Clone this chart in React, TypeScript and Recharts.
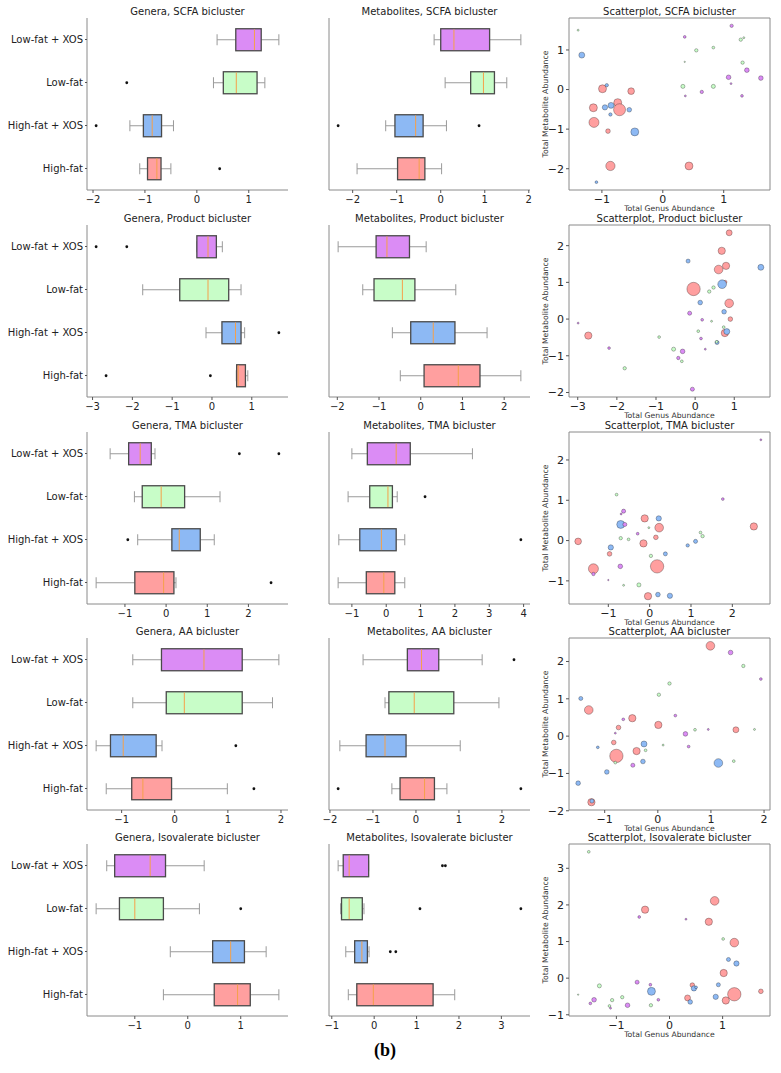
import React from "react";
import {
  ComposedChart,
  Bar,
  XAxis,
  YAxis,
  ReferenceArea,
  ScatterChart,
  Scatter,
  ZAxis,
} from "recharts";

// ---------- categories ----------
const groups = ["Low-fat + XOS", "Low-fat", "High-fat + XOS", "High-fat"];

// ---------- box statistics: [lowWhisker, q1, median, q3, highWhisker] per group ----------
const genSCFA = [[0.39, 0.75, 1.11, 1.24, 1.58], [0.32, 0.51, 0.76, 1.16, 1.31], [-1.29, -1.03, -0.86, -0.68, -0.45], [-1.1, -0.95, -0.77, -0.69, -0.5]];
const genSCFAOut = [[], [-1.35], [-1.94], [0.44]];
const metSCFA = [[-0.15, 0.0, 0.3, 1.11, 1.82], [0.1, 0.68, 0.97, 1.22, 1.5], [-1.25, -1.04, -0.57, -0.4, 0.13], [-1.9, -0.98, -0.49, -0.36, 0.02]];
const metSCFAOut = [[], [], [-2.33, 0.87], []];

const genProd = [[-0.38, -0.38, -0.1, 0.11, 0.26], [-1.74, -0.81, -0.1, 0.42, 0.73], [-0.15, 0.25, 0.59, 0.73, 0.82], [0.61, 0.62, 0.66, 0.84, 0.9]];
const genProdOut = [[-2.91, -2.14], [], [1.68], [-2.66, -0.04]];
const metProd = [[-1.98, -1.07, -0.81, -0.27, 0.13], [-1.39, -1.12, -0.44, -0.14, 0.84], [-0.68, -0.24, 0.3, 0.82, 1.59], [-0.49, 0.08, 0.9, 1.42, 2.4]];
const metProdOut = [[], [], [], []];

const genTMA = [[-1.36, -0.91, -0.63, -0.36, -0.27], [-0.77, -0.58, -0.12, 0.45, 1.31], [-0.69, 0.14, 0.32, 0.83, 1.17], [-1.7, -0.76, -0.06, 0.19, 0.24]];
const genTMAOut = [[1.78, 2.74], [], [-0.93], [2.55]];
const metTMA = [[-1.0, -0.55, 0.29, 0.7, 2.51], [-1.11, -0.48, 0.05, 0.18, 0.32], [-1.38, -0.77, -0.14, 0.29, 0.54], [-1.4, -0.58, -0.07, 0.25, 0.54]];
const metTMAOut = [[], [1.13], [3.92], []];

const genAA = [[-0.79, -0.25, 0.55, 1.27, 1.96], [-0.79, -0.16, 0.18, 1.27, 1.84], [-1.48, -1.21, -0.97, -0.35, -0.24], [-1.29, -0.81, -0.6, -0.06, 0.99]];
const genAAOut = [[], [], [1.15], [1.49]];
const metAA = [[-1.23, -0.2, 0.13, 0.53, 1.54], [-0.72, -0.63, -0.04, 0.88, 1.93], [-1.77, -1.16, -0.72, -0.23, 1.03], [-0.56, -0.37, 0.2, 0.43, 0.72]];
const metAAOut = [[2.28], [], [], [-1.81, 2.44]];

const genIso = [[-1.53, -1.38, -0.71, -0.42, 0.31], [-1.73, -1.29, -1.0, -0.46, 0.22], [-0.33, 0.47, 0.81, 1.07, 1.48], [-0.46, 0.5, 0.94, 1.18, 1.72]];
const genIsoOut = [[], [1.0], [], []];
const metIso = [[-0.85, -0.73, -0.59, -0.13, -0.13], [-0.79, -0.77, -0.59, -0.28, -0.24], [-0.67, -0.46, -0.29, -0.16, -0.12], [-0.61, -0.41, -0.02, 1.39, 1.9]];
const metIsoOut = [[1.61, 1.68], [1.08, 3.46], [0.38, 0.51], []];

// ---------- scatter points: [genus, metabolite, markerArea] per group ----------
const scSCFA = [
  [[1.13, 1.61, 9], [0.36, 1.33, 6], [1.38, 0.49, 17], [1.08, 0.31, 17], [1.61, 0.29, 17], [1.12, 0.15, 3], [0.64, -0.06, 9], [0.37, -0.16, 3], [1.3, -0.16, 6]],
  [[-1.39, 1.5, 3], [0.55, 0.99, 9], [0.36, 0.7, 1.5], [0.83, 1.06, 6], [1.28, 1.26, 9], [1.33, 1.31, 3], [1.31, 0.68, 9], [0.33, 0.08, 13], [0.83, 0.08, 13]],
  [[-1.33, 0.87, 28], [-0.92, 0.11, 9], [-0.95, -0.45, 22], [-0.85, -0.4, 28], [-0.86, -0.63, 9], [-0.55, -0.51, 17], [-0.46, -1.07, 50], [-1.09, -2.34, 6]],
  [[-0.99, 0.02, 50], [-0.52, -0.04, 35], [-0.74, -0.33, 50], [-0.71, -0.51, 113], [-1.14, -0.46, 50], [-1.13, -0.83, 79], [-0.9, -1.05, 17], [-0.86, -1.93, 68], [0.43, -1.93, 50]],
];
const scProd = [
  [[-2.99, -0.11, 3], [-0.14, 0.16, 13], [0.18, -0.02, 6], [0.15, -0.53, 6], [0.26, -0.82, 3], [-2.2, -0.79, 6], [-0.32, -0.88, 17], [-0.43, -1.06, 9], [-0.07, -1.91, 13]],
  [[0.36, 0.75, 9], [0.47, 0.86, 9], [0.42, -0.06, 3], [0.08, -0.33, 6], [-0.92, -0.49, 6], [-0.55, -0.82, 13], [-0.34, -1.15, 6], [-1.8, -1.34, 9], [0.73, -0.22, 6], [0.55, -0.62, 6]],
  [[1.68, 1.41, 28], [-0.18, 1.58, 13], [0.69, 0.95, 59], [0.13, 0.45, 17], [0.74, 0.2, 17], [0.81, -0.34, 28], [0.56, -0.64, 13]],
  [[0.87, 2.35, 28], [0.68, 1.86, 42], [0.6, 1.35, 59], [0.79, 1.45, 42], [-0.04, 0.82, 140], [0.87, 0.43, 59], [0.9, 0.0, 17], [0.76, -0.38, 42], [-2.73, -0.45, 42], [0.77, 1.01, 9]],
];
const scTMA = [
  [[2.69, 2.5, 3], [1.77, 1.03, 6], [-0.63, 0.73, 13], [-0.69, 0.66, 3], [-0.6, 0.4, 13], [-0.29, 0.17, 6], [-0.71, -0.64, 17], [-1.36, -0.83, 9], [-1.0, -0.98, 1.5]],
  [[-0.8, 1.14, 6], [-0.02, 0.32, 3], [-0.7, 0.06, 9], [-0.51, 0.03, 6], [1.23, 0.2, 6], [1.28, 0.11, 9], [0.03, -0.38, 9], [-0.63, -1.11, 3], [-0.26, -1.1, 13]],
  [[-0.7, 0.4, 50], [0.22, 0.55, 22], [-0.94, -0.17, 22], [0.38, -0.33, 13], [0.92, -0.12, 9], [1.11, -0.02, 13], [0.2, -1.34, 17], [0.49, -1.37, 22]],
  [[-0.12, 0.55, 42], [0.23, 0.32, 59], [0.15, 0.08, 17], [-0.15, -0.07, 42], [-1.73, -0.02, 35], [-0.97, -0.33, 17], [-1.36, -0.7, 79], [0.18, -0.64, 140], [-0.04, -1.38, 42], [2.52, 0.35, 42]],
];
const scAA = [
  [[1.37, 2.24, 17], [1.94, 1.53, 6], [0.33, 0.55, 6], [-0.65, 0.45, 6], [-0.8, 0.08, 3], [0.52, 0.06, 17], [0.95, 0.18, 3], [0.58, -0.28, 6], [-0.47, -0.78, 13]],
  [[1.61, 1.88, 9], [0.22, 1.41, 9], [0.02, 1.11, 9], [0.7, 0.17, 6], [1.82, 0.18, 3], [0.1, -0.24, 3], [-0.23, -0.38, 6], [1.43, -0.67, 6], [-0.8, -0.71, 6]],
  [[-1.45, 1.01, 13], [-1.13, -0.3, 6], [-0.26, -0.21, 28], [-0.28, -0.68, 17], [-0.96, -0.96, 17], [1.14, -0.72, 59], [-1.5, -1.26, 17], [-1.24, -1.74, 13]],
  [[0.99, 2.42, 59], [-1.3, 0.7, 59], [-0.48, 0.48, 42], [-0.74, 0.23, 17], [0.01, 0.3, 42], [-0.83, -0.17, 17], [-0.4, -0.4, 42], [-0.78, -0.53, 140], [1.47, 0.17, 28], [-1.25, -1.77, 42]],
];
const scIso = [
  [[-0.57, 1.67, 6], [0.31, 1.61, 3], [-0.61, -0.11, 13], [-0.36, -0.18, 6], [-0.21, -0.59, 6], [-1.42, -0.59, 17], [-1.49, -0.69, 6], [-1.11, -0.82, 3], [-0.79, -0.74, 17]],
  [[-1.52, 3.45, 6], [1.01, 1.07, 6], [-1.32, -0.21, 13], [-0.89, -0.52, 9], [-1.08, -0.6, 9], [-0.35, -0.74, 9], [-1.13, -0.76, 6], [-1.72, -0.45, 1.5]],
  [[1.11, 0.51, 13], [1.26, 0.4, 22], [-0.34, -0.36, 50], [0.46, -0.28, 22], [0.5, -0.25, 6], [0.92, -0.18, 13], [0.87, -0.51, 22], [0.39, -0.65, 17]],
  [[0.85, 2.11, 59], [-0.46, 1.87, 42], [0.74, 1.54, 42], [1.22, 0.97, 59], [1.02, 0.14, 42], [1.22, -0.44, 140], [1.06, -0.61, 42], [0.43, -0.19, 17], [0.34, -0.54, 28], [1.72, -0.36, 17]],
];

// ---------- tick values ----------
const tGenSCFA = [-2, -1, 0, 1];
const tMetSCFA = [-2, -1, 0, 1, 2];
const tScSCFAx = [-1, 0, 1];
const tScSCFAy = [-2, -1, 0, 1];
const tGenProd = [-3, -2, -1, 0, 1];
const tMetProd = [-2, -1, 0, 1, 2];
const tScProdx = [-3, -2, -1, 0, 1];
const tScPrody = [-2, -1, 0, 1, 2];
const tGenTMA = [-1, 0, 1, 2];
const tMetTMA = [-1, 0, 1, 2, 3, 4];
const tScTMAx = [-1, 0, 1, 2];
const tScTMAy = [-1, 0, 1, 2];
const tGenAA = [-1, 0, 1, 2];
const tMetAA = [-2, -1, 0, 1, 2];
const tScAAx = [-1, 0, 1, 2];
const tScAAy = [-2, -1, 0, 1, 2];
const tGenIso = [-1, 0, 1];
const tMetIso = [-1, 0, 1, 2, 3];
const tScIsox = [-1, 0, 1];
const tScIsoy = [-1, 0, 1, 2, 3];

// ---------- styles / layout ----------
const FONT = "DejaVu Sans";
const FILLS = ["#DB8CF5", "#C8FDC8", "#8DB9F4", "#FF9F9F"];
const EDGE = "#4a4a4a";
const WHISK = "#9a9a9a";
const MEDIAN = "#F5A04A";
const FRAME = "#8a8a8a";
const COLX = [87, 329, 569];
const ROWY = [18, 225, 432, 638, 844];
const PW = 201;
const PH = 172;

const fmt = (v: number) => (v < 0 ? "\u2212" + Math.abs(v) : String(v));

const padDomain = (vals: number[]): [number, number] => {
  const mn = Math.min(...vals);
  const mx = Math.max(...vals);
  const p = (mx - mn) * 0.05;
  return [mn - p, mx + p];
};

const CatTick = (p: any) => (
  <text
    x={p.x}
    y={p.y}
    dy="0.355em"
    textAnchor="end"
    fontSize={10}
    fill="#222"
    fontFamily={FONT}
  >
    {p.payload.value}
  </text>
);

const BoxShape = (props: any) => {
  const { x, y, width, height } = props;
  const d = props.payload ?? props;
  const [a, b] = d.range;
  const px = (v: number) => x + ((v - a) / (b - a)) * width;
  const cy = y + height / 2;
  const ch = height / 4;
  return (
    <g>
      <line x1={px(d.lo)} x2={px(d.q1)} y1={cy} y2={cy} stroke={WHISK} strokeWidth={1} />
      <line x1={px(d.q3)} x2={px(d.hi)} y1={cy} y2={cy} stroke={WHISK} strokeWidth={1} />
      <line x1={px(d.lo)} x2={px(d.lo)} y1={cy - ch} y2={cy + ch} stroke={WHISK} strokeWidth={1} />
      <line x1={px(d.hi)} x2={px(d.hi)} y1={cy - ch} y2={cy + ch} stroke={WHISK} strokeWidth={1} />
      <rect
        x={px(d.q1)}
        y={y}
        width={Math.max(px(d.q3) - px(d.q1), 0.5)}
        height={height}
        fill={FILLS[d.idx]}
        stroke={EDGE}
        strokeWidth={1.3}
      />
      <line x1={px(d.med)} x2={px(d.med)} y1={y + 0.7} y2={y + height - 0.7} stroke={MEDIAN} strokeWidth={1} />
      {d.out.map((o: number, k: number) => (
        <circle key={k} cx={px(o)} cy={cy} r={1.4} fill="#111" />
      ))}
    </g>
  );
};

const Title = ({ text, left, top }: { text: string; left: number; top: number }) => (
  <div
    style={{
      position: "absolute",
      left,
      top,
      width: PW,
      textAlign: "center",
      fontSize: 10,
      lineHeight: "12px",
      color: "#222",
      fontFamily: FONT,
      whiteSpace: "nowrap",
    }}
  >
    {text}
  </div>
);

const BoxPanel = ({
  title,
  stats,
  outliers,
  ticks,
  col,
  row,
}: {
  title: string;
  stats: number[][];
  outliers: number[][];
  ticks: number[];
  col: number;
  row: number;
}) => {
  const yW = col === 0 ? 87 : 12;
  const mT = 2;
  const mR = 6;
  const xH = 22;
  const data = groups.map((name, i) => {
    const [lo, q1, med, q3, hi] = stats[i];
    const out = outliers[i];
    return { name, idx: i, lo, q1, med, q3, hi, out, range: [Math.min(lo, ...out), Math.max(hi, ...out)] };
  });
  const domain = padDomain(data.flatMap((d) => d.range));
  return (
    <div style={{ position: "absolute", left: COLX[col] - yW, top: ROWY[row] - mT }}>
      <ComposedChart
        layout="vertical"
        width={yW + PW + mR}
        height={mT + PH + xH}
        data={data}
        margin={{ top: mT, right: mR, bottom: 0, left: 0 }}
        barCategoryGap="25%"
      >
        <XAxis
          type="number"
          domain={domain}
          ticks={ticks}
          allowDataOverflow
          interval={0}
          tickFormatter={fmt}
          tick={{ fontSize: 10, fill: "#222", fontFamily: FONT }}
          tickSize={3}
          tickMargin={3}
          tickLine={{ stroke: "#555" }}
          axisLine={{ stroke: FRAME }}
          height={xH}
        />
        <XAxis
          xAxisId="top"
          orientation="top"
          type="number"
          domain={domain}
          allowDataOverflow
          tick={false}
          tickLine={false}
          axisLine={{ stroke: FRAME }}
          height={0}
        />
        <YAxis
          type="category"
          dataKey="name"
          width={yW}
          interval={0}
          tick={col === 0 ? CatTick : false}
          tickSize={2}
          tickMargin={2}
          tickLine={{ stroke: col === 0 ? "#555" : "#bbb" }}
          axisLine={{ stroke: FRAME }}
        />
        <YAxis
          yAxisId="right"
          orientation="right"
          type="category"
          dataKey="name"
          width={0}
          tick={false}
          tickLine={false}
          axisLine={{ stroke: FRAME }}
        />
        <Bar dataKey="range" shape={BoxShape} isAnimationActive={false} />
      </ComposedChart>
      <Title text={title} left={yW} top={mT - 12} />
    </div>
  );
};

const drawOrder = [3, 2, 1, 0];

const ScatterPanel = ({
  title,
  series,
  xticks,
  yticks,
  row,
}: {
  title: string;
  series: number[][][];
  xticks: number[];
  yticks: number[];
  row: number;
}) => {
  const yW = 40;
  const mT = 2;
  const mR = 6;
  const xH = 26;
  const pts = series.map((g) => g.map(([x, y, s]) => ({ x, y, s })));
  const all = pts.flat();
  const xd = padDomain(all.map((p) => p.x));
  const yd = padDomain(all.map((p) => p.y));
  return (
    <div style={{ position: "absolute", left: COLX[2] - yW, top: ROWY[row] - mT }}>
      <ScatterChart width={yW + PW + mR} height={mT + PH + xH} margin={{ top: mT, right: mR, bottom: 0, left: 0 }}>
        <XAxis
          type="number"
          dataKey="x"
          domain={xd}
          ticks={xticks}
          allowDataOverflow
          interval={0}
          tickFormatter={fmt}
          tick={{ fontSize: 11, fill: "#222", fontFamily: FONT }}
          tickSize={3}
          tickMargin={2}
          tickLine={{ stroke: "#555" }}
          axisLine={false}
          height={xH}
          label={{
            value: "Total Genus Abundance",
            position: "insideBottom",
            offset: 5,
            style: { fontSize: 7.7, fill: "#333", fontFamily: FONT },
          }}
        />
        <YAxis
          type="number"
          dataKey="y"
          domain={yd}
          ticks={yticks}
          allowDataOverflow
          interval={0}
          tickFormatter={fmt}
          tick={{ fontSize: 11, fill: "#222", fontFamily: FONT }}
          tickSize={3}
          tickMargin={2}
          tickLine={{ stroke: "#555" }}
          axisLine={false}
          width={yW}
          label={{
            value: "Total Metabolite Abundance",
            angle: -90,
            position: "insideLeft",
            offset: 16.7,
            style: { fontSize: 7.7, fill: "#333", fontFamily: FONT, textAnchor: "middle" },
          }}
        />
        <ZAxis type="number" dataKey="s" domain={[0, 150]} range={[0, 150]} />
        <ReferenceArea
          x1={xd[0]}
          x2={xd[1]}
          y1={yd[0]}
          y2={yd[1]}
          fill="none"
          stroke={FRAME}
          strokeWidth={1}
          ifOverflow="visible"
        />
        {drawOrder.map((i) => (
          <Scatter
            key={i}
            name={groups[i]}
            data={pts[i]}
            fill={FILLS[i]}
            stroke="#000"
            strokeOpacity={0.4}
            strokeWidth={0.7}
            isAnimationActive={false}
          />
        ))}
      </ScatterChart>
      <Title text={title} left={yW} top={mT - 12} />
    </div>
  );
};

export default function App() {
  return (
    <div
      style={{
        position: "absolute",
        left: 0,
        top: 0,
        width: 781,
        height: 1073,
        background: "#fff",
        fontFamily: FONT,
        overflow: "hidden",
      }}
    >
      <BoxPanel title="Genera, SCFA bicluster" stats={genSCFA} outliers={genSCFAOut} ticks={tGenSCFA} col={0} row={0} />
      <BoxPanel title="Metabolites, SCFA bicluster" stats={metSCFA} outliers={metSCFAOut} ticks={tMetSCFA} col={1} row={0} />
      <ScatterPanel title="Scatterplot, SCFA bicluster" series={scSCFA} xticks={tScSCFAx} yticks={tScSCFAy} row={0} />

      <BoxPanel title="Genera, Product bicluster" stats={genProd} outliers={genProdOut} ticks={tGenProd} col={0} row={1} />
      <BoxPanel title="Metabolites, Product bicluster" stats={metProd} outliers={metProdOut} ticks={tMetProd} col={1} row={1} />
      <ScatterPanel title="Scatterplot, Product bicluster" series={scProd} xticks={tScProdx} yticks={tScPrody} row={1} />

      <BoxPanel title="Genera, TMA bicluster" stats={genTMA} outliers={genTMAOut} ticks={tGenTMA} col={0} row={2} />
      <BoxPanel title="Metabolites, TMA bicluster" stats={metTMA} outliers={metTMAOut} ticks={tMetTMA} col={1} row={2} />
      <ScatterPanel title="Scatterplot, TMA bicluster" series={scTMA} xticks={tScTMAx} yticks={tScTMAy} row={2} />

      <BoxPanel title="Genera, AA bicluster" stats={genAA} outliers={genAAOut} ticks={tGenAA} col={0} row={3} />
      <BoxPanel title="Metabolites, AA bicluster" stats={metAA} outliers={metAAOut} ticks={tMetAA} col={1} row={3} />
      <ScatterPanel title="Scatterplot, AA bicluster" series={scAA} xticks={tScAAx} yticks={tScAAy} row={3} />

      <BoxPanel title="Genera, Isovalerate bicluster" stats={genIso} outliers={genIsoOut} ticks={tGenIso} col={0} row={4} />
      <BoxPanel title="Metabolites, Isovalerate bicluster" stats={metIso} outliers={metIsoOut} ticks={tMetIso} col={1} row={4} />
      <ScatterPanel title="Scatterplot, Isovalerate bicluster" series={scIso} xticks={tScIsox} yticks={tScIsoy} row={4} />

      <div
        style={{
          position: "absolute",
          left: 335,
          width: 100,
          top: 1040,
          textAlign: "center",
          fontFamily: "Liberation Serif",
          fontWeight: "bold",
          fontSize: 18,
          lineHeight: "20px",
          color: "#000",
        }}
      >
        (b)
      </div>
    </div>
  );
}
